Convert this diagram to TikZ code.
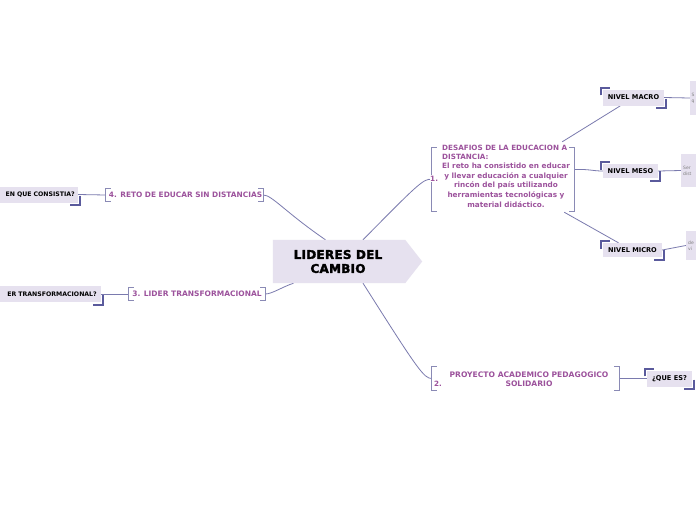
\documentclass[tikz,border=0pt]{standalone}
\usepackage{fontspec}
\setmainfont{DejaVu Sans}
\newfontfamily\heavyfont{DejaVu Sans}[FakeBold=2.5, LetterSpace=2]
\usetikzlibrary{backgrounds}
\definecolor{purp}{HTML}{9C529C}
\definecolor{brk}{HTML}{8A8AB5}
\definecolor{mk}{HTML}{5A5A9C}
\definecolor{lav}{HTML}{E6E1EF}
\definecolor{ln}{HTML}{7A7AAE}
\tikzset{
  conn/.style={draw=ln, line width=0.8pt},
  brkline/.style={draw=brk, line width=1.3pt},
  mkline/.style={draw=mk, line width=1.8pt},
  ptxt/.style={text=purp, font=\bfseries\fontsize{7.2}{9}\selectfont, inner sep=0},
  frame/.style={inner sep=0},
  mbox/.style={fill=lav, inner sep=0, font=\bfseries\fontsize{6.6}{8}\selectfont, text=black},
  tinytxt/.style={font=\fontsize{4.5}{6}\selectfont, text=gray, align=left, inner sep=0},
}
\newcommand\drawbrackets[1]{%
  \draw[brkline] ([xshift=5pt]#1.north west) -- (#1.north west) -- (#1.south west) -- ([xshift=5pt]#1.south west);
  \draw[brkline] ([xshift=-5pt]#1.north east) -- (#1.north east) -- (#1.south east) -- ([xshift=-5pt]#1.south east);}
\newcommand\drawmarks[1]{%
  \draw[mkline] ([shift={(-1.5pt,-6pt)}]#1.north west) -- ([shift={(-1.5pt,1.5pt)}]#1.north west) -- ([shift={(7pt,1.5pt)}]#1.north west);
  \draw[mkline] ([shift={(2pt,7pt)}]#1.south east) -- ([shift={(2pt,-2.5pt)}]#1.south east) -- ([shift={(-8pt,-2.5pt)}]#1.south east);}
\begin{document}
\begin{tikzpicture}[x=1pt,y=-1pt]
\useasboundingbox (0,0) rectangle (696,520);
\begin{scope}[on background layer]
\fill[white] (0,0) rectangle (696,520);
\end{scope}

% central node
\node[frame, minimum width=149pt, minimum height=43pt] (c) at (347.5,261.5) {};
\fill[lav] (c.north west) -- ([xshift=-17pt]c.north east) -- (c.east) -- ([xshift=-17pt]c.south east) -- (c.south west) -- cycle;
\node[font=\heavyfont\bfseries\fontsize{12}{14}\selectfont, align=center, inner sep=0] (ct) at (338,261.5) {LIDERES DEL\\CAMBIO};

% node 1
\node[frame, minimum width=142pt, minimum height=63pt] (n1) at (503,179.5) {};
\drawbrackets{n1}
\node[ptxt, anchor=north west, align=left, font=\bfseries\fontsize{7.2}{8.6}\selectfont] (t1a) at (442,145) {DESAFIOS DE LA EDUCACION A\\DISTANCIA:};
\node[ptxt, anchor=north, align=center, font=\bfseries\fontsize{7.3}{9.75}\selectfont] (t1b) at (506,162.5) {El reto ha consistido en educar\\y llevar educación a cualquier\\rincón del país utilizando\\herramientas tecnológicas y\\material didáctico.};
\node[ptxt, anchor=west, fill=white, inner sep=0.5pt, font=\bfseries\fontsize{7.3}{9.75}\selectfont] (t1n) at (429.5,178.5) {1.};

% node 2
\node[frame, minimum width=187pt, minimum height=23pt] (n2) at (525.5,378.5) {};
\drawbrackets{n2}
\node[ptxt, align=center, font=\bfseries\fontsize{7.6}{9}\selectfont] (t2) at (529,379.5) {PROYECTO ACADEMICO PEDAGOGICO\\SOLIDARIO};
\node[ptxt, anchor=west] (t2n) at (434,383.5) {2.};

% node 4
\node[frame, minimum width=157pt, minimum height=13pt] (n4) at (184.5,195) {};
\drawbrackets{n4}
\node[ptxt, font=\bfseries\fontsize{7.4}{9}\selectfont] (t4) at (185.5,195) {4. RETO DE EDUCAR SIN DISTANCIAS};

% node 3
\node[frame, minimum width=136pt, minimum height=13pt] (n3) at (197,294) {};
\drawbrackets{n3}
\node[ptxt, font=\bfseries\fontsize{7.5}{9}\selectfont] (t3) at (197,294) {3. LIDER TRANSFORMACIONAL};

% lavender boxes
\node[mbox, minimum width=61pt, minimum height=16pt] (macro) at (633.5,97.5) {NIVEL MACRO};
\drawmarks{macro}
\node[mbox, minimum width=55pt, minimum height=14pt] (meso) at (630.5,171) {NIVEL MESO};
\drawmarks{meso}
\node[mbox, minimum width=59pt, minimum height=14pt] (micro) at (632.5,250) {NIVEL MICRO};
\drawmarks{micro}
\node[mbox, minimum width=45pt, minimum height=16pt] (que) at (669.5,378.5) {¿QUE ES?};
\drawmarks{que}
\node[mbox, anchor=east, inner xsep=3pt, minimum height=16pt, text width=95pt, align=right, font=\bfseries\fontsize{6.2}{8}\selectfont] (cons) at (78,194.5) {EN QUE CONSISTIA?};
\drawmarks{cons}
\node[mbox, anchor=east, inner xsep=4pt, minimum height=16pt, text width=115pt, align=right, font=\bfseries\fontsize{6.2}{8}\selectfont] (ser) at (101,294) {ER TRANSFORMACIONAL?};
\drawmarks{ser}

% small boxes at the right edge
\node[fill=lav, minimum width=16pt, minimum height=34pt, inner sep=0] (sq1) at (698,98) {};
\node[tinytxt, anchor=west] (sq1t) at (691.5,98) {S\\q};
\node[fill=lav, minimum width=25pt, minimum height=33pt, inner sep=0] (sq2) at (693.5,170.5) {};
\node[tinytxt, anchor=west] (sq2t) at (683,171) {Ser\\dist};
\node[fill=lav, minimum width=20pt, minimum height=29pt, inner sep=0] (sq3) at (696,245.5) {};
\node[tinytxt, anchor=west] (sq3t) at (688,246) {de\\vi};

% connectors
\begin{scope}[on background layer]
\draw[conn] ([xshift=15.5pt]c.north) .. controls (418,184) and (424,178) .. (n1.west);
\draw[conn] ([xshift=15.5pt]c.south) .. controls (418,370) and (424,378.5) .. (n2.west);
\draw[conn] ([xshift=-22pt]c.north) .. controls (285,212) and (272,195) .. (n4.east);
\draw[conn] ([xshift=-54pt]c.south) .. controls (282,287) and (272,294) .. (n3.east);
\draw[conn] ([shift={(-12pt,6pt)}]n1.north east) -- ([xshift=-13pt]macro.south);
\draw[conn] ([yshift=10pt]n1.east) .. controls (590,169) and (592,171) .. (meso.west);
\draw[conn] ([shift={(-10pt,-1pt)}]n1.south east) -- ([xshift=-14pt]micro.north);
\draw[conn] (macro.east) -- (sq1.west);
\draw[conn] (meso.east) -- (sq2.west);
\draw[conn] (micro.east) -- (sq3.west);
\draw[conn] (n2.east) -- (que.west);
\draw[conn] (n4.west) -- (cons.east);
\draw[conn] (n3.west) -- (ser.east);
\end{scope}
\end{tikzpicture}
\end{document}
